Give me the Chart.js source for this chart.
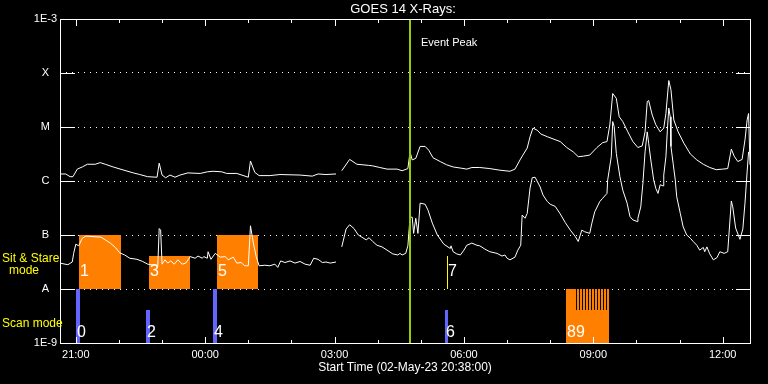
<!DOCTYPE html>
<html>
<head>
<meta charset="utf-8">
<title>GOES 14 X-Rays</title>
<script src="https://cdn.jsdelivr.net/npm/chart.js@4.4.0/dist/chart.umd.min.js"></script>
<style>
  html, body { margin: 0; padding: 0; background: #000; }
  #wrap { width: 768px; height: 384px; }
</style>
</head>
<body>
<div id="wrap"><canvas id="goes" width="768" height="384"></canvas></div>
<script>
// time axis: minutes after the start time (02-May-23 20:38:00)
// flux: log10 of the X-ray flux, W/m^2 (A = -8 ... X = -4)

// long channel (upper curve), null = data gap
var longMin = [0, 8, 14, 18, 24, 31, 38, 49, 56, 63, 74, 89, 102, 111, 122, 135, 138, 142, 147, 153,
  160, 167, 178, 195, 205, 213, 225, 232, 246, 262, 265, 271, 277, 292, 306, 334, 351, 359, 370, 384,
  388,
  392, 403, 413, 429, 435, 445, 455, 469, 476, 484, 487, 490, 495, 501, 508, 513, 519, 529, 538, 547,
  557, 566, 573, 584, 598, 612, 626, 633, 640, 644, 650, 654, 658, 664, 669, 678, 686, 696, 705, 714,
  721, 728, 737, 747, 755, 761, 765, 769, 774, 778, 783, 790, 797, 804, 810, 814, 817, 819, 824, 829,
  835, 840, 843, 847, 850, 854, 860, 868, 877, 886, 895, 904, 913, 922, 929, 934, 938, 943, 949, 953,
  956, 958, 960];
var longLog = [-5.87, -5.87, -5.92, -5.92, -5.78, -5.74, -5.69, -5.69, -5.66, -5.69, -5.74, -5.80, -5.85, -5.88, -5.92, -5.93, -5.67, -5.89, -5.94, -5.89,
  -5.93, -5.89, -5.85, -5.86, -5.83, -5.82, -5.83, -5.86, -5.86, -5.93, -5.63, -5.84, -5.90, -5.90, -5.88, -5.89, -5.91, -5.87, -5.88, -5.87,
  null,
  -5.81, -5.60, -5.69, -5.71, -5.72, -5.75, -5.78, -5.78, -5.81, -5.77, -5.46, -5.61, -5.58, -5.36, -5.36, -5.43, -5.57, -5.64, -5.70, -5.74,
  -5.76, -5.78, -5.75, -5.75, -5.77, -5.80, -5.82, -5.78, -5.61, -5.52, -5.39, -5.18, -5.02, -5.06, -5.13, -5.18, -5.22, -5.27, -5.38, -5.46,
  -5.55, -5.54, -5.52, -5.38, -5.29, -5.27, -4.96, -4.38, -4.47, -4.81, -4.90, -5.09, -5.27, -5.38, -5.35, -5.09, -4.53, -4.51, -4.78, -4.96,
  -5.09, -5.02, -4.75, -4.14, -4.31, -4.87, -5.09, -5.30, -5.50, -5.61, -5.69, -5.75, -5.79, -5.78, -5.77, -5.41, -5.54, -5.64, -5.60, -5.24,
  -4.87, -4.75, -5.70];

// short channel (lower curve)
var shortMin = [0, 7, 11, 17, 19, 22, 26, 31, 36, 46, 57, 63, 70, 77, 83, 90, 97, 107, 115, 122,
  132, 136, 138, 140, 142, 146, 150, 154, 159, 164, 170, 175, 181, 188, 192, 198, 200, 205, 206, 210,
  216, 223, 230, 234, 241, 246, 252, 257, 262, 265, 269, 273, 277, 285, 292, 299, 303, 307, 313, 320,
  327, 334, 341, 348, 353, 359, 365, 370, 376, 384,
  388,
  392, 398, 403, 409, 415, 420, 426, 430, 435, 441, 448, 455, 463, 470, 473, 476, 481, 484, 487, 490,
  492, 495, 498, 501, 508, 512, 518, 525, 534, 543, 544, 547, 552, 557, 562, 566, 573, 580, 584, 591,
  598, 608, 615, 619, 622, 626, 633, 637, 641, 643, 647, 650, 654, 657, 661, 668, 672, 678, 682, 689,
  696, 703, 710, 717, 721, 726, 730, 737, 740, 744, 751, 755, 761, 762, 767, 769, 771, 774, 779, 783,
  789, 793, 797, 803, 804, 808, 811, 814, 817, 819, 822, 826, 829, 832, 835, 839, 840, 843, 845, 847,
  849, 850, 853, 856, 858, 863, 867, 872, 877, 881, 886, 890, 895, 897, 900, 904, 909, 914, 918, 924,
  929, 934, 936, 940, 946, 950, 953, 956, 958];
var shortLog = [-7.52, -7.54, -7.55, -7.50, -7.34, -7.17, -7.20, -7.06, -7.02, -7.03, -7.04, -7.09, -7.15, -7.23, -7.33, -7.37, -7.43, -7.45, -7.49, -7.54,
  -7.56, -7.59, -6.88, -6.91, -7.54, -7.46, -7.52, -7.48, -7.54, -7.46, -7.54, -7.52, -7.40, -7.43, -7.39, -7.43, -7.40, -7.43, -7.31, -7.45,
  -7.34, -7.41, -7.40, -7.46, -7.41, -7.52, -7.51, -7.57, -7.57, -6.83, -7.15, -7.40, -7.57, -7.56, -7.57, -7.54, -7.60, -7.48, -7.51, -7.48,
  -7.52, -7.49, -7.54, -7.56, -7.43, -7.45, -7.51, -7.50, -7.52, -7.50,
  null,
  -7.22, -6.89, -6.81, -6.88, -7.00, -7.04, -7.09, -7.05, -7.12, -7.19, -7.22, -7.28, -7.35, -7.37, -7.34, -7.37, -7.34, -7.20, -6.67, -6.67,
  -6.97, -6.69, -6.97, -6.41, -6.43, -6.54, -6.78, -7.00, -7.17, -7.25, -7.20, -7.31, -7.35, -7.37, -7.28, -7.19, -7.15, -7.19, -7.20, -7.26,
  -7.31, -7.34, -7.39, -7.37, -7.43, -7.46, -7.41, -7.28, -7.19, -6.63, -6.69, -6.60, -6.13, -5.94, -5.93, -6.11, -6.26, -6.38, -6.43, -6.47,
  -6.61, -6.77, -6.91, -7.03, -7.12, -6.91, -6.94, -6.97, -6.78, -6.57, -6.38, -6.32, -6.23, -5.98, -5.55, -4.90, -4.99, -5.49, -5.92, -6.17,
  -6.41, -6.66, -6.72, -6.75, -6.69, -6.48, -6.04, -5.46, -5.09, -5.30, -5.61, -5.98, -6.14, -6.23, -6.07, -6.09, -5.89, -5.55, -5.06, -4.65,
  -4.81, -5.36, -5.67, -5.98, -6.29, -6.60, -6.85, -7.00, -7.06, -7.12, -7.19, -7.28, -7.23, -7.31, -7.22, -7.35, -7.46, -7.42, -7.31, -7.34,
  -7.31, -6.37, -6.48, -6.87, -7.08, -6.89, -6.41, -5.83, -5.46];

// y axis levels and their names
var levelValues = [-9, -8, -7, -6, -5, -4, -3];
var levelLabels = ['1E-9', 'A', 'B', 'C', 'M', 'X', '1E-3'];

// hour ticks (21:00 .. 12:00), labels every 3 hours
var hourTicks = [22, 82, 142, 202, 262, 322, 382, 442, 502, 562, 622, 682, 742, 802, 862, 922];
var labelTicks = [22, 202, 382, 562, 742, 922];
var timeLabels = ['21:00', '00:00', '03:00', '06:00', '09:00', '12:00'];

// Sit & Stare pointings (start, end in minutes, top of box in log flux)
var stareStart = [26, 124, 218, 539];
var stareEnd = [85, 181, 276, 539];
var stareTop = [-7, -7.39, -7, -7.39];
var stareLabel = ['1', '3', '5', '7'];

// Scan mode
var scanStart = [22, 120, 213, 536];
var scanEnd = [28, 125, 218, 540];
var scanTop = [-8, -8.39, -8, -8.39];
var scanLabel = ['0', '2', '4', '6'];

// the 8/9 block in the scan row and the gaps cut into it
var blockStart = 704;
var blockEnd = 764;
var blockLabel = '89';
var blockStripes = [718, 722, 726, 730, 735, 739, 743, 747, 751, 755, 760];

var eventPeak = 487;

var WHITE = '#ffffff';
var YELLOW = '#ffff00';
var ORANGE = '#ff8000';
var BLUE = '#6464ff';
var GREEN = '#99cc00';
var FONT = '"Liberation Sans", "DejaVu Sans", sans-serif';

function points(mins, logs) {
  return mins.map(function (m, i) { return { x: m, y: logs[i] }; });
}

var goesOverlay = {
  id: 'goesOverlay',
  beforeDraw: function (chart) {
    var ctx = chart.ctx;
    ctx.save();
    ctx.fillStyle = '#000';
    ctx.fillRect(0, 0, chart.width, chart.height);
    ctx.restore();
  },
  beforeDatasetsDraw: function (chart) {
    var ctx = chart.ctx, xs = chart.scales.x, ys = chart.scales.y;
    var px = function (v) { return Math.round(xs.getPixelForValue(v)); };
    var py = function (v) { return Math.round(ys.getPixelForValue(v)); };
    ctx.save();
    var i, x0, x1;
    for (i = 0; i < stareStart.length; i++) {
      x0 = px(stareStart[i]); x1 = px(stareEnd[i]);
      if (x1 - x0 < 1) {
        ctx.fillStyle = YELLOW;
        ctx.fillRect(x0, py(stareTop[i]), 1, py(-8) - py(stareTop[i]));
      } else {
        ctx.fillStyle = ORANGE;
        ctx.fillRect(x0, py(stareTop[i]), x1 - x0, py(-8) - py(stareTop[i]));
      }
    }
    ctx.fillStyle = BLUE;
    for (i = 0; i < scanStart.length; i++) {
      x0 = px(scanStart[i]); x1 = px(scanEnd[i]);
      ctx.fillRect(x0, py(scanTop[i]), Math.max(x1 - x0, 1), py(-9) - py(scanTop[i]));
    }
    ctx.fillStyle = ORANGE;
    ctx.fillRect(px(blockStart), py(-8), px(blockEnd) - px(blockStart), py(-9) - py(-8));
    ctx.fillStyle = '#000';
    blockStripes.forEach(function (t) {
      ctx.fillRect(px(t), py(-8), 1, py(-8.39) - py(-8));
    });
    ctx.restore();
  },
  afterDatasetsDraw: function (chart) {
    var ctx = chart.ctx, xs = chart.scales.x, ys = chart.scales.y, a = chart.chartArea;
    var px = function (v) { return Math.round(xs.getPixelForValue(v)); };
    var py = function (v) { return Math.round(ys.getPixelForValue(v)); };
    ctx.save();

    // event peak marker
    ctx.fillStyle = GREEN;
    ctx.fillRect(px(eventPeak) - 1, a.top, 2, a.bottom - a.top);

    // frame and inward ticks
    ctx.strokeStyle = WHITE;
    ctx.lineWidth = 1;
    ctx.strokeRect(a.left + 0.5, a.top + 0.5, a.right - a.left, a.bottom - a.top);
    ctx.beginPath();
    levelValues.forEach(function (v) {
      if (v <= -9 || v >= -3) return;
      var y = py(v) + 0.5;
      ctx.moveTo(a.left, y); ctx.lineTo(a.left + 15, y);
      ctx.moveTo(a.right - 14, y); ctx.lineTo(a.right + 1, y);
    });
    hourTicks.forEach(function (t) {
      var x = px(t) + 0.5;
      var len = labelTicks.indexOf(t) >= 0 ? 6 : 3;
      ctx.moveTo(x, a.bottom); ctx.lineTo(x, a.bottom - len);
      ctx.moveTo(x, a.top + 1); ctx.lineTo(x, a.top + 1 + len);
    });
    ctx.stroke();

    // event numbers
    ctx.fillStyle = WHITE;
    ctx.font = '16px ' + FONT;
    ctx.textAlign = 'left';
    ctx.textBaseline = 'middle';
    var i;
    for (i = 0; i < stareStart.length; i++) {
      ctx.fillText(stareLabel[i], px(stareStart[i]) + 1, py(-7.68));
    }
    for (i = 0; i < scanStart.length; i++) {
      ctx.fillText(scanLabel[i], px(scanStart[i]) + 1, py(-8.81));
    }
    ctx.fillText(blockLabel, px(blockStart) + 1, py(-8.81));

    ctx.font = '11px ' + FONT;
    ctx.fillText('Event Peak', px(eventPeak) + 11, a.top + 24);

    // mode labels
    ctx.fillStyle = YELLOW;
    ctx.font = '12px ' + FONT;
    ctx.fillText('Sit & Stare', 2, 259);
    ctx.textAlign = 'center';
    ctx.fillText('mode', 24, 271);
    ctx.textAlign = 'left';
    ctx.fillText('Scan mode', 2, 324);

    // title
    ctx.fillStyle = WHITE;
    ctx.textAlign = 'center';
    ctx.font = '13px ' + FONT;
    ctx.fillText('GOES 14 X-Rays:', (a.left + a.right) / 2 - 2, 9);
    ctx.restore();
  }
};

new Chart(document.getElementById('goes').getContext('2d'), {
  type: 'line',
  data: {
    datasets: [
      {
        label: 'long',
        data: points(longMin, longLog),
        borderColor: WHITE,
        borderWidth: 1,
        pointRadius: 0,
        tension: 0,
        spanGaps: false
      },
      {
        label: 'short',
        data: points(shortMin, shortLog),
        borderColor: WHITE,
        borderWidth: 1,
        pointRadius: 0,
        tension: 0,
        spanGaps: false
      }
    ]
  },
  options: {
    responsive: false,
    animation: false,
    events: [],
    layout: { padding: { top: 19, right: 18, left: 0, bottom: 0 } },
    plugins: { legend: { display: false }, tooltip: { enabled: false }, title: { display: false } },
    scales: {
      x: {
        type: 'linear',
        min: 0,
        max: 960,
        afterFit: function (s) { s.height = 41; },
        afterBuildTicks: function (s) { s.ticks = hourTicks.map(function (v) { return { value: v }; }); },
        ticks: {
          autoSkip: false,
          maxRotation: 0,
          color: WHITE,
          padding: 5,
          font: { family: FONT, size: 11 },
          callback: function (v) {
            var k = labelTicks.indexOf(v);
            return k < 0 ? '' : timeLabels[k];
          }
        },
        grid: { display: false, drawTicks: false },
        border: { display: false },
        title: {
          display: true,
          text: 'Start Time (02-May-23 20:38:00)',
          color: WHITE,
          font: { family: FONT, size: 12 },
          padding: { top: 0, bottom: 9 }
        }
      },
      y: {
        type: 'linear',
        min: -9,
        max: -3,
        afterFit: function (s) { s.width = 60; },
        afterBuildTicks: function (s) { s.ticks = levelValues.map(function (v) { return { value: v }; }); },
        ticks: {
          color: WHITE,
          padding: 3,
          crossAlign: 'center',
          font: { family: FONT, size: 11 },
          callback: function (v) { return levelLabels[levelValues.indexOf(v)]; }
        },
        grid: {
          drawTicks: false,
          lineWidth: 1,
          color: function (c) {
            return (c.tick && c.tick.value > -9 && c.tick.value < -3) ? WHITE : 'rgba(0,0,0,0)';
          }
        },
        border: { display: false, dash: [1, 5] }
      }
    }
  },
  plugins: [goesOverlay]
});
</script>
</body>
</html>
